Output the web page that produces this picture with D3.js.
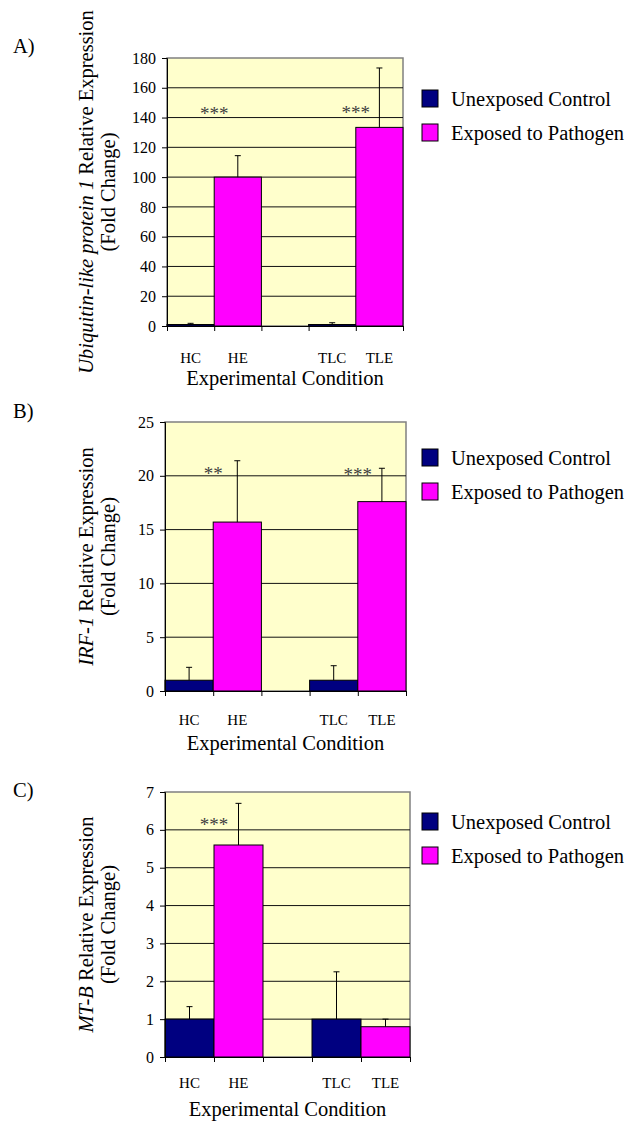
<!DOCTYPE html>
<html lang="en">
  <head>
    <meta charset="UTF-8" />
    <title>Relative Expression</title>
    <script src="https://d3js.org/d3.v7.min.js"></script>
    <style>
      body {
        margin: 0;
        background: #fff;
      }
      svg text {
        font-family: "Liberation Serif", "Times New Roman", serif;
        fill: #000;
      }
      .tick text {
        font-size: 16px;
      }
      .cat {
        font-size: 15px;
        text-anchor: middle;
      }
      .title {
        font-size: 20.5px;
      }
      .stars {
        font-size: 19px;
        fill: #404040;
        text-anchor: middle;
      }
    </style>
  </head>
  <body></body>
  <script>
    // slots along the x axis, the empty one keeps the gap between groups
    const slots = ["HC", "HE", "gap", "TLC", "TLE"];
    const series = ["Unexposed Control", "Exposed to Pathogen"];
    const colors = ["#000080", "#FF00FF"];

    const panelLetters = ["A)", "B)", "C)"];
    const geneNames = ["Ubiquitin-like protein 1", "IRF-1", "MT-B"];

    // [HC, HE, TLC, TLE]
    const valuesA = [1, 100, 1, 133.4];
    const errorsA = [0.8, 14.4, 1.2, 39.9];
    const valuesB = [1, 15.7, 1, 17.6];
    const errorsB = [1.2, 5.7, 1.35, 3.1];
    const valuesC = [1, 5.6, 1, 0.8];
    const errorsC = [0.33, 1.1, 1.25, 0.2];

    const yMaxes = [180, 25, 7];
    const yTicksA = [0, 20, 40, 60, 80, 100, 120, 140, 160, 180];
    const yTicksB = [0, 5, 10, 15, 20, 25];
    const yTicksC = [0, 1, 2, 3, 4, 5, 6, 7];

    // significance marks: slot and height of the mark
    const starsA = [{ slot: "HE", text: "***", at: 144 }, { slot: "TLE", text: "***", at: 145 }];
    const starsB = [{ slot: "HE", text: "**", at: 20.4 }, { slot: "TLE", text: "***", at: 20.3 }];
    const starsC = [{ slot: "HE", text: "***", at: 6.2 }];

    const barCats = ["HC", "HE", "TLC", "TLE"];
    const barSeries = [0, 1, 0, 1];

    const layout = [
      { left: 167, right: 403, top: 58, bottom: 326, legendTop: 90, letterY: 53, catY: 363 },
      { left: 165, right: 406, top: 422, bottom: 691, legendTop: 449, letterY: 418, catY: 725 },
      { left: 165, right: 410, top: 792, bottom: 1057, legendTop: 813, letterY: 797, catY: 1088 },
    ];

    const panels = [
      { values: valuesA, errors: errorsA, ticks: yTicksA, stars: starsA },
      { values: valuesB, errors: errorsB, ticks: yTicksB, stars: starsB },
      { values: valuesC, errors: errorsC, ticks: yTicksC, stars: starsC },
    ];

    const svg = d3
      .select("body")
      .append("svg")
      .attr("width", 639)
      .attr("height", 1123);

    panels.forEach(function (p, i) {
      const L = layout[i];
      const g = svg.append("g");

      const x = d3.scaleBand().domain(slots).range([L.left, L.right]).padding(0);
      const xEdge = d3.scaleLinear().domain([0, slots.length]).range([L.left, L.right]);
      const y = d3.scaleLinear().domain([0, yMaxes[i]]).range([L.bottom, L.top]);

      // panel letter
      g.append("text")
        .attr("class", "title")
        .attr("x", 13)
        .attr("y", L.letterY)
        .text(panelLetters[i]);

      // plot area
      g.append("rect")
        .attr("x", L.left)
        .attr("y", L.top)
        .attr("width", L.right - L.left)
        .attr("height", L.bottom - L.top)
        .attr("fill", "#FFFFCC")
        .attr("stroke", "#808080")
        .attr("stroke-width", 1.5);

      g.selectAll(".grid")
        .data(p.ticks.filter((t) => t > 0 && t < yMaxes[i]))
        .enter()
        .append("line")
        .attr("x1", L.left)
        .attr("x2", L.right)
        .attr("y1", (d) => y(d))
        .attr("y2", (d) => y(d))
        .attr("stroke", "#111")
        .attr("stroke-width", 1);

      // bars
      const bars = barCats.map((c, k) => ({
        cat: c,
        s: barSeries[k],
        v: p.values[k],
        e: p.errors[k],
      }));

      g.selectAll(".bar")
        .data(bars)
        .enter()
        .append("rect")
        .attr("x", (d) => x(d.cat))
        .attr("y", (d) => y(d.v))
        .attr("width", x.bandwidth())
        .attr("height", (d) => y(0) - y(d.v))
        .attr("fill", (d) => colors[d.s])
        .attr("stroke", "#000")
        .attr("stroke-width", 1);

      // error bars (upper only)
      const err = g
        .selectAll(".err")
        .data(bars)
        .enter()
        .append("g")
        .attr("stroke", "#000")
        .attr("stroke-width", 1);
      err.append("line")
        .attr("x1", (d) => x(d.cat) + x.bandwidth() / 2)
        .attr("x2", (d) => x(d.cat) + x.bandwidth() / 2)
        .attr("y1", (d) => y(d.v))
        .attr("y2", (d) => y(d.v + d.e));
      err.append("line")
        .attr("x1", (d) => x(d.cat) + x.bandwidth() / 2 - 3)
        .attr("x2", (d) => x(d.cat) + x.bandwidth() / 2 + 3)
        .attr("y1", (d) => y(d.v + d.e))
        .attr("y2", (d) => y(d.v + d.e));

      // stars
      g.selectAll(".stars")
        .data(p.stars)
        .enter()
        .append("text")
        .attr("class", "stars")
        .attr("x", (d) => x(d.slot))
        .attr("y", (d) => y(d.at))
        .attr("dy", "0.45em")
        .text((d) => d.text);

      // y axis
      const yAxis = g
        .append("g")
        .attr("transform", `translate(${L.left},0)`)
        .call(
          d3
            .axisLeft(y)
            .tickValues(p.ticks)
            .tickFormat(d3.format("d"))
            .tickSize(5)
            .tickPadding(6)
        );
      yAxis.select(".domain").attr("stroke", "#000");

      // x axis: ticks at slot boundaries
      g.append("g")
        .attr("transform", `translate(0,${L.bottom})`)
        .call(
          d3
            .axisBottom(xEdge)
            .tickValues(d3.range(slots.length + 1))
            .tickFormat("")
            .tickSize(5)
            .tickSizeOuter(0)
        );

      g.selectAll(".cat")
        .data(slots.filter((s) => s !== "gap"))
        .enter()
        .append("text")
        .attr("class", "cat")
        .attr("x", (d) => x(d) + x.bandwidth() / 2)
        .attr("y", L.catY)
        .text((d) => d);

      g.append("text")
        .attr("class", "title")
        .attr("text-anchor", "middle")
        .attr("x", (L.left + L.right) / 2)
        .attr("y", L.bottom + 59)
        .text("Experimental Condition");

      // y title, two lines
      const cy = (L.top + L.bottom) / 2;
      const t1 = g
        .append("text")
        .attr("class", "title")
        .attr("text-anchor", "middle")
        .attr("transform", `translate(93,${cy}) rotate(-90)`);
      t1.append("tspan").attr("font-style", "italic").text(geneNames[i]);
      t1.append("tspan").text(" Relative Expression");
      g.append("text")
        .attr("class", "title")
        .attr("text-anchor", "middle")
        .attr("transform", `translate(115,${cy}) rotate(-90)`)
        .text("(Fold Change)");

      // legend
      const leg = g
        .selectAll(".leg")
        .data(series)
        .enter()
        .append("g")
        .attr("transform", (d, k) => `translate(422,${L.legendTop + k * 34})`);
      leg.append("rect")
        .attr("width", 16)
        .attr("height", 17)
        .attr("fill", (d, k) => colors[k])
        .attr("stroke", "#000")
        .attr("stroke-width", 1);
      leg.append("text")
        .attr("class", "title")
        .attr("x", 29)
        .attr("y", 16)
        .text((d) => d);
    });
  </script>
</html>
